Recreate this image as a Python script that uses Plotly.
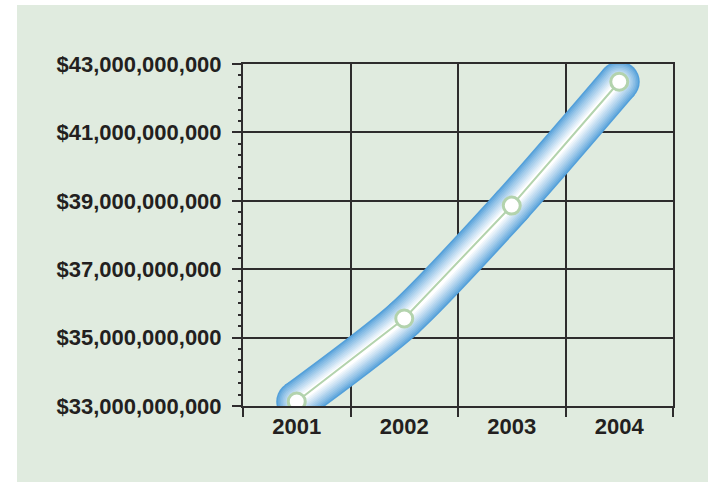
import plotly.graph_objects as go

# Annual totals, 2001-2004
years = ["2001", "2002", "2003", "2004"]
totals = [33.13e9, 35.56e9, 38.86e9, 42.48e9]

y_min, y_max, y_step = 33e9, 43e9, 2e9

W, H = 708, 482
margin = dict(l=243, r=35, t=64, b=76)
plot_w = W - margin["l"] - margin["r"]
plot_h = H - margin["t"] - margin["b"]

BG = "#e0ebdf"
INK = "#231f20"
GRID = "#2e2c2d"
CORE = "#b3d3ad"

fig = go.Figure()

# Blue tube: stacked strokes fading from blue edge to a white core
edge = (84, 160, 218)
n_layers = 12
for i in range(n_layers):
    t = i / (n_layers - 1)
    w = 41 - t * 35
    k = t ** 0.85
    r = int(edge[0] + (255 - edge[0]) * k)
    g = int(edge[1] + (255 - edge[1]) * k)
    b = int(edge[2] + (255 - edge[2]) * k)
    col = f"rgb({r},{g},{b})"
    fig.add_trace(go.Scatter(
        x=years, y=totals, mode="lines+markers",
        line=dict(color=col, width=w, shape="spline", smoothing=0.7),
        marker=dict(color=col, size=w, line=dict(width=0)),
        hoverinfo="skip", showlegend=False,
    ))

# Thin core line with point markers
fig.add_trace(go.Scatter(
    x=years, y=totals, mode="lines+markers",
    line=dict(color=CORE, width=2),
    marker=dict(color="white", size=17, line=dict(color=CORE, width=3)),
    showlegend=False,
))

# Green panel behind the chart (white strip on top and left)
x0 = (17 - margin["l"]) / plot_w
x1 = (W - margin["l"]) / plot_w
y0 = -margin["b"] / plot_h
y1 = (H - 5 - margin["b"]) / plot_h
fig.add_shape(type="rect", xref="paper", yref="paper",
              x0=x0, x1=x1, y0=y0, y1=y1,
              fillcolor=BG, line=dict(width=0), layer="below")

tick_font = dict(family="Liberation Sans, Arial, sans-serif", size=22,
                 color=INK, weight="bold")

fig.update_layout(
    width=W, height=H, margin=margin,
    paper_bgcolor="white", plot_bgcolor="rgba(0,0,0,0)",
    xaxis=dict(
        type="category", range=[-0.5, 3.5], tickson="boundaries",
        showgrid=True, gridcolor=GRID, gridwidth=2,
        showline=True, linecolor=GRID, linewidth=2, mirror=True,
        ticks="outside", ticklen=9, tickwidth=2, tickcolor=GRID,
        tickfont=tick_font, zeroline=False, fixedrange=True,
    ),
    yaxis=dict(
        range=[y_min, y_max], dtick=y_step, tick0=y_min,
        tickformat="$,.0f",
        showgrid=True, gridcolor=GRID, gridwidth=2,
        showline=True, linecolor=GRID, linewidth=2, mirror=True,
        ticks="outside", ticklen=9, tickwidth=2, tickcolor=GRID,
        ticklabelstandoff=6,
        minor=dict(ticks="outside", ticklen=3, tickwidth=2,
                   tickcolor=GRID, dtick=y_step / 6, showgrid=False),
        tickfont=tick_font, zeroline=False, fixedrange=True,
    ),
)

fig.write_html("out.html")
